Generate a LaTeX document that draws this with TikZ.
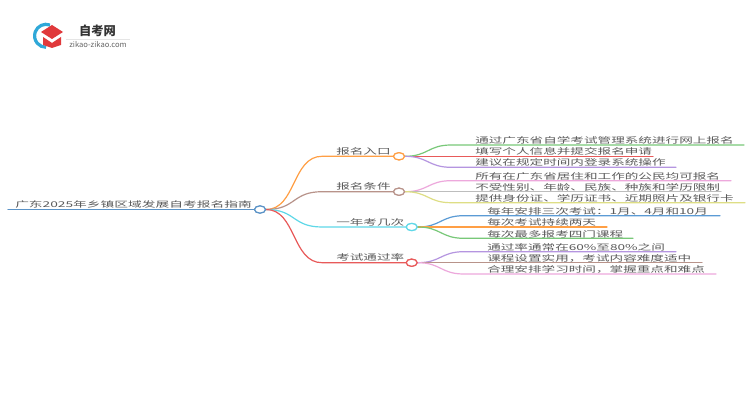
\documentclass[tikz,border=0pt]{standalone}
\usepackage{fontspec}
\setmainfont{Noto Sans CJK SC}
\usetikzlibrary{shapes.geometric}
\definecolor{txt}{HTML}{5A5A5A}
\definecolor{cRoot}{HTML}{5B93C7}
\definecolor{cOrange}{HTML}{FF9F45}
\definecolor{cBrown}{HTML}{B8938A}
\definecolor{cCyan}{HTML}{5FD8E8}
\definecolor{cRed}{HTML}{E85A5A}
\definecolor{cGreen}{HTML}{78C878}
\definecolor{cPurple}{HTML}{B595E0}
\definecolor{cPink}{HTML}{EDA8DC}
\definecolor{cGray}{HTML}{BDBDBD}
\definecolor{cYellow}{HTML}{DEDE85}
\definecolor{cBlue}{HTML}{5B9BD5}
\definecolor{logoBlue}{HTML}{2FA8D8}
\definecolor{logoRed}{HTML}{E0393B}
\tikzset{
  x=0.75pt,y=-0.75pt,
  leaf/.style={anchor=base west,inner sep=0pt,text=txt,font=\fontsize{10.2pt}{10.2pt}\selectfont},
  dot/.style={ellipse,draw=#1,fill=white,line width=0.9pt,minimum width=8.2pt,minimum height=5.4pt,inner sep=0pt},
  link/.style={line width=0.9pt,line cap=round,draw=#1},
}
\newcommand{\sq}[2][0.6]{\scalebox{1}[#1]{#2}}
% name, parent, colour, line y, text x, end x, text
\newcommand{\leafitem}[7]{%
  \path (#2.east) ++(46,0) coordinate (#1p);
  \coordinate (#1a) at (#1p |- 0,#4);
  \coordinate (#1e) at (#6,#4);
  \node[leaf] (#1) at (#5,#4-1.3) {\sq{#7}};
  \draw[link=#3] (#2.east) .. controls +(23,0) and +(-23,0) .. (#1a) -- (#1e);
}
% name, colour, y, circle x, text
\newcommand{\branchitem}[5]{%
  \coordinate (#1a) at (322,#3);
  \node[dot=#2] (#1) at (#4,#3) {};
  \node[leaf] (#1t) at (336,#3-2) {\sq{#5}};
  \draw[link=#2] (root.east) .. controls +(30,0) and +(-30,0) .. (#1a) -- (#1.west);
}
\begin{document}
\begin{tikzpicture}
\useasboundingbox (0,0) rectangle (750,410);
\fill[white] (0,0) rectangle (750,410);
% logo
\draw[line width=2.4pt,color=logoBlue] (50,25) arc[start angle=290,end angle=90,radius=11.5];
\fill[logoRed] (41,32) -- (52,25) -- (63,32) -- (52,39) -- cycle;
\fill[logoRed] (43,37) -- (52,43) -- (61,37) -- (61,45) -- (52,48) -- (43,45) -- cycle;
\node[inner sep=0pt,text=black!80] (logotitle) at (97.5,31) {\fontsize{9.2pt}{9pt}\selectfont\bfseries 自考网};
\draw[black!10,line width=0.6pt] (66,39) -- (130,39);
\node[inner sep=0pt,text=black!60] (logourl) at (98,45) {\fontsize{5.7pt}{6pt}\selectfont zikao-zikao.com};
% root
\coordinate (roots) at (8,209.5);
\node[dot=cRoot] (root) at (260,209.5) {};
\node[leaf] (roott) at (15,207.6) {\fontsize{10.3pt}{11pt}\selectfont\sq[0.58]{广东2025年乡镇区域发展自考报名指南}};
\draw[link=cRoot] (roots) -- (root.west);
% branches
\branchitem{b1}{cOrange}{156.3}{399}{报名入口}
\branchitem{b2}{cBrown}{191.7}{399}{报名条件}
\branchitem{b3}{cCyan}{227}{411.7}{一年考几次}
\branchitem{b4}{cRed}{262.7}{411.7}{考试通过率}
% leaves
\leafitem{l1}{b1}{cGreen}{145}{475}{744}{通过广东省自学考试管理系统进行网上报名}
\leafitem{l2}{b1}{cRed}{156.3}{475}{653}{填写个人信息并提交报名申请}
\leafitem{l3}{b1}{cPurple}{167.3}{475}{676}{建议在规定时间内登录系统操作}
\leafitem{l4}{b2}{cPink}{180.7}{475}{731}{所有在广东省居住和工作的公民均可报名}
\leafitem{l5}{b2}{cGray}{191.7}{475}{721}{不受性别、年龄、民族、种族和学历限制}
\leafitem{l6}{b2}{cYellow}{202.7}{475}{745}{提供身份证、学历证书、近期照片及银行卡}
\leafitem{l7}{b3}{cBlue}{215.7}{487}{720}{每年安排三次考试：1月、4月和10月}
\leafitem{l8}{b3}{cOrange}{227}{487}{607}{每次考试持续两天}
\leafitem{l9}{b3}{cGreen}{238.3}{487}{633}{每次最多报考四门课程}
\leafitem{l10}{b4}{cPurple}{251.7}{487}{676}{通过率通常在60\%至80\%之间}
\leafitem{l11}{b4}{cBrown}{262.7}{487}{702}{课程设置实用，考试内容难度适中}
\leafitem{l12}{b4}{cPink}{274}{487}{716}{合理安排学习时间，掌握重点和难点}
% dots on top
\node[dot=cOrange] at (b1) {};
\node[dot=cBrown] at (b2) {};
\node[dot=cCyan] at (b3) {};
\node[dot=cRed] at (b4) {};
\node[dot=cRoot] at (root) {};
\end{tikzpicture}
\end{document}
